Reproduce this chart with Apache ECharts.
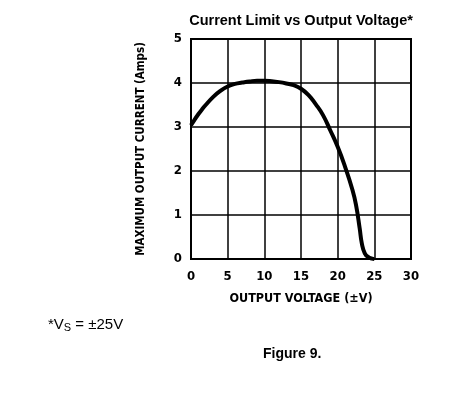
<!DOCTYPE html>
<html><head><meta charset="utf-8">
<script src="https://cdn.jsdelivr.net/npm/echarts@6/dist/echarts.min.js"></script>
<style>html,body{margin:0;padding:0;background:#fff}#c{width:475px;height:410px}</style>
</head><body><div id="c"></div>
<script>
const voltage = [0, 0.5, 1, 1.5, 2, 3, 4, 5, 6, 7, 8, 9, 10, 11, 12, 13, 14, 15, 16, 17, 18, 19, 20, 21, 22, 22.5, 23, 23.3, 23.7, 24.2, 24.7, 25];
const current = [3.04, 3.17, 3.29, 3.4, 3.5, 3.68, 3.82, 3.92, 3.98, 4.01, 4.035, 4.05, 4.05, 4.04, 4.02, 3.99, 3.95, 3.87, 3.73, 3.52, 3.27, 2.92, 2.55, 2.1, 1.58, 1.23, 0.7, 0.35, 0.13, 0.04, 0.01, 0];
const xTicks = [0, 5, 10, 15, 20, 25, 30];
const yTicks = [0, 1, 2, 3, 4, 5];
const chart = echarts.init(document.getElementById('c'));
const condensed = '"DejaVu Sans Condensed", "Liberation Sans Narrow", sans-serif';
const sans = '"Liberation Sans", Arial, sans-serif';
chart.setOption({
  animation: false,
  title: { text: 'Current Limit vs Output Voltage*', left: 296, top: 8, textAlign: 'center',
    textStyle: { fontFamily: sans, fontWeight: 'bold', fontSize: 14.5, color: '#000' } },
  grid: { left: 191, right: 64, top: 39, bottom: 151, show: true, borderColor: '#000', borderWidth: 2 },
  xAxis: { type: 'value', min: xTicks[0], max: xTicks[xTicks.length - 1], interval: 5,
    name: 'OUTPUT VOLTAGE (\u00B1V)', nameLocation: 'middle', nameGap: 33,
    nameTextStyle: { fontFamily: condensed, fontWeight: 'bold', fontSize: 12.5, color: '#000' },
    axisLine: { show: false }, axisTick: { show: false },
    axisLabel: { fontFamily: condensed, fontWeight: 'bold', fontSize: 13, color: '#000', margin: 11 },
    splitLine: { lineStyle: { color: '#000', width: 1.5 } } },
  yAxis: { type: 'value', min: yTicks[0], max: yTicks[yTicks.length - 1], interval: 1,
    name: 'MAXIMUM OUTPUT CURRENT (Amps)', nameLocation: 'middle', nameGap: 44, nameRotate: 90,
    nameTextStyle: { fontFamily: condensed, fontWeight: 'bold', fontSize: 11.5, color: '#000' },
    axisLine: { show: false }, axisTick: { show: false },
    axisLabel: { fontFamily: condensed, fontWeight: 'bold', fontSize: 13, color: '#000', margin: 9 },
    splitLine: { lineStyle: { color: '#000', width: 1.5 } } },
  series: [{ type: 'line', data: voltage.map((v, i) => [v, current[i]]), smooth: 0.5, showSymbol: false,
    lineStyle: { color: '#000', width: 4 } }],
  graphic: [
    { type: 'text', left: 48, top: 317, style: { text: '{a|*V}{s|S}{a| = \u00B125V}',
      rich: { a: { fontFamily: sans, fontSize: 15, fill: '#000', color: '#000' },
              s: { fontFamily: sans, fontSize: 11, fill: '#000', color: '#000', padding: [7, 0, 0, 0] } } } },
    { type: 'text', left: 263, top: 347, style: { text: 'Figure 9.', fontFamily: sans, fontWeight: 'bold', fontSize: 14, fill: '#000' } }
  ]
});
</script></body></html>
